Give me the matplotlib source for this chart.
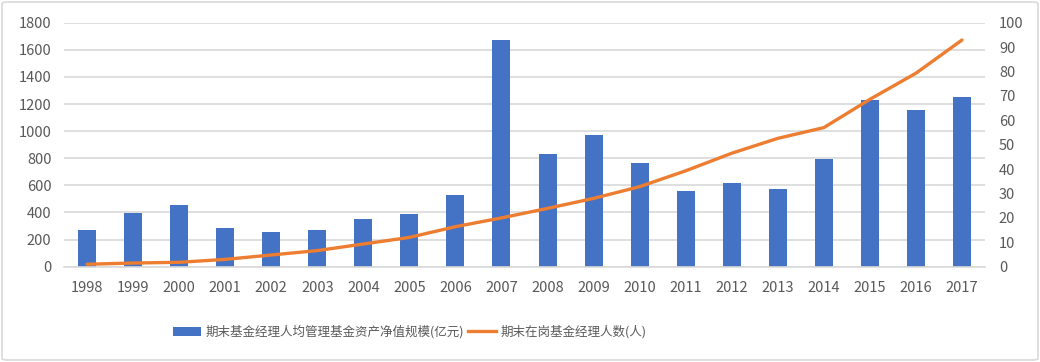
import matplotlib
matplotlib.use("Agg")
import matplotlib.pyplot as plt
from matplotlib.patches import FancyBboxPatch, Patch
from matplotlib.lines import Line2D
import numpy as np

plt.rcParams['font.family'] = ['Noto Sans CJK SC', 'DejaVu Sans']

years = ['1998', '1999', '2000', '2001', '2002', '2003', '2004', '2005', '2006', '2007',
         '2008', '2009', '2010', '2011', '2012', '2013', '2014', '2015', '2016', '2017']
avg_assets = [271, 398, 455, 285, 256, 271, 352, 389, 529, 1672,
              831, 971, 765, 558, 617, 573, 794, 1229, 1156, 1252]
managers = [1, 1.5, 1.8, 3, 4.8, 6.6, 9.3, 12, 16.4, 20,
            23.9, 28, 32.8, 39.3, 46.5, 52.6, 57, 68.6, 79.3, 92.9]
bar_label = '期末基金经理人均管理基金资产净值规模(亿元)'
line_label = '期末在岗基金经理人数(人)'

BLUE = '#4472C4'
ORANGE = '#ED7D31'
GRID = '#D9D9D9'
TXT = '#595959'

fig = plt.figure(figsize=(10.4, 3.62), dpi=100)
ax = fig.add_axes([64/1040, 1-266.7/362, (985-64)/1040, (266.7-22.7)/362])
x = np.arange(len(years))
ax.bar(x, avg_assets, width=0.39, color=BLUE, zorder=2)
ax.set_xlim(-0.5, len(years)-0.5)
ax.set_ylim(0, 1800)
ax.set_yticks(np.arange(0, 1801, 200))
ax.set_xticks(x)
ax.set_xticklabels(years)
ax.grid(axis='y', color=GRID, linewidth=1.2, zorder=0)
ax.set_axisbelow(True)
for s in ['top', 'right', 'left']:
    ax.spines[s].set_visible(False)
ax.spines['bottom'].set_color(GRID)
ax.spines['bottom'].set_linewidth(1.2)
ax.tick_params(axis='both', length=0, colors=TXT, labelsize=10.5)
ax.tick_params(axis='x', pad=10)
ax.tick_params(axis='y', pad=9)

ax2 = ax.twinx()
ax2.plot(x, managers, color=ORANGE, linewidth=2.4, solid_capstyle='round', zorder=3)
ax2.set_ylim(0, 100)
ax2.set_yticks(np.arange(0, 101, 10))
for s in ['top', 'right', 'left', 'bottom']:
    ax2.spines[s].set_visible(False)
ax2.tick_params(axis='y', length=0, colors=TXT, labelsize=10.5, pad=10)

handles = [Patch(facecolor=BLUE, edgecolor='none'),
           Line2D([0], [0], color=ORANGE, linewidth=2.4)]
fig.legend(handles, [bar_label, line_label], loc='center', bbox_to_anchor=(410/1040, 1-332/362),
           ncol=2, frameon=False, fontsize=9, labelcolor=TXT, handlelength=2.2,
           handletextpad=0.4, columnspacing=0.3)

border = FancyBboxPatch((2/1040, 2/362), 1-4/1040, 1-4/362, boxstyle='round,pad=0,rounding_size=0.005',
                        transform=fig.transFigure, facecolor='none', edgecolor='#D9D9D9', linewidth=1.2)
fig.patches.append(border)

fig.savefig('out.png', dpi=100)
